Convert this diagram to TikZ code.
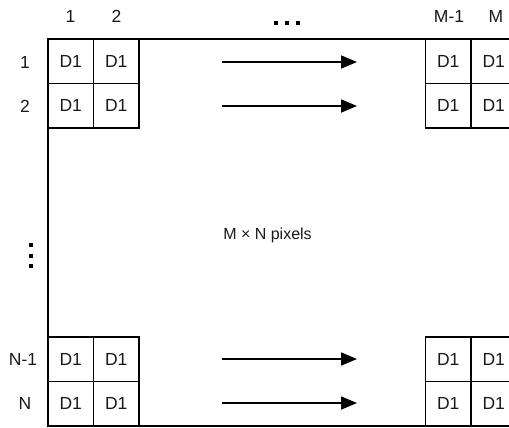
\documentclass[tikz,border=0pt]{standalone}
\usepackage{fontspec}
\setmainfont{Liberation Sans}
\usetikzlibrary{arrows.meta}
\begin{document}
\begin{tikzpicture}[x=1bp,y=-1bp,
  cell/.style={draw=black,line width=1.8bp,minimum width=45.5bp,minimum height=44.5bp,inner sep=0pt,outer sep=0pt,font=\fontsize{17.5bp}{20bp}\selectfont,text=black!90},
  lbl/.style={inner sep=0pt,font=\fontsize{17.5bp}{20bp}\selectfont,text=black!90},
  flow/.style={line width=1.8bp,-{Triangle[length=16bp,width=13bp]}},
  dot/.style={fill=black,draw=none}]
\useasboundingbox (0,0) rectangle (509,427);
\begin{scope}
\clip (0,0) rectangle (509,427);
% outer frame
\draw[line width=1.6bp] (48,39) rectangle (540,426);
% top-left block
\node[cell] (a11) at (70.75,61.25) {D1};
\node[cell] (a12) at (116.25,61.25) {D1};
\node[cell] (a21) at (70.75,105.75) {D1};
\node[cell] (a22) at (116.25,105.75) {D1};
% top-right block
\node[cell] (b11) at (448.25,61.25) {D1};
\node[cell] (b12) at (493.75,61.25) {D1};
\node[cell] (b21) at (448.25,105.75) {D1};
\node[cell] (b22) at (493.75,105.75) {D1};
% bottom-left block
\node[cell] (c11) at (70.75,359.25) {D1};
\node[cell] (c12) at (116.25,359.25) {D1};
\node[cell] (c21) at (70.75,403.75) {D1};
\node[cell] (c22) at (116.25,403.75) {D1};
% bottom-right block
\node[cell] (d11) at (448.25,359.25) {D1};
\node[cell] (d12) at (493.75,359.25) {D1};
\node[cell] (d21) at (448.25,403.75) {D1};
\node[cell] (d22) at (493.75,403.75) {D1};
\end{scope}
% column labels
\node[lbl] (col1) at (70.5,16) {1};
\node[lbl] (col2) at (116.5,16) {2};
\node[lbl] (colm1) at (449,16) {M-1};
\node[lbl] (colm) at (496,16) {M};
% row labels
\node[lbl] (row1) at (25,62) {1};
\node[lbl] (row2) at (25,106) {2};
\node[lbl] (rown1) at (23,359) {N-1};
\node[lbl] (rown) at (25,403) {N};
% dots
\foreach \x in {276,287,298}{\fill[dot] (\x-2,21) rectangle (\x+2,25);}
\foreach \y in {245,255.5,266}{\fill[dot] (29,\y-2) rectangle (33,\y+2);}
% centre text
\node[lbl,font=\fontsize{16bp}{19bp}\selectfont] (mn) at (267.5,235) {M × N pixels};
% arrows
\coordinate (s1) at (222,62); \coordinate (e1) at (357,62);
\coordinate (s2) at (222,106); \coordinate (e2) at (357,106);
\coordinate (s3) at (222,359); \coordinate (e3) at (357,359);
\coordinate (s4) at (222,403); \coordinate (e4) at (357,403);
\draw[flow] (s1) -- (e1);
\draw[flow] (s2) -- (e2);
\draw[flow] (s3) -- (e3);
\draw[flow] (s4) -- (e4);
\end{tikzpicture}
\end{document}
